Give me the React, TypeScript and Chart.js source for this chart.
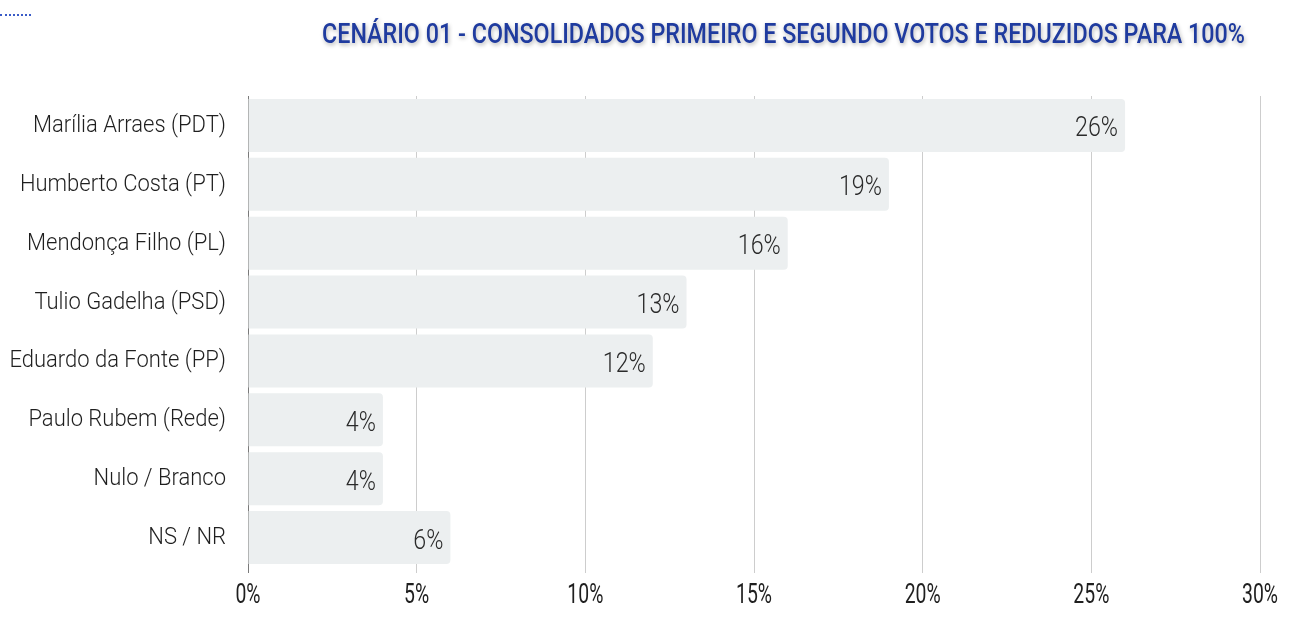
import React, { useEffect, useRef } from 'react';
import { Chart, registerables } from 'chart.js';

Chart.register(...registerables);

const TITLE = 'CENÁRIO 01 - CONSOLIDADOS PRIMEIRO E SEGUNDO VOTOS E REDUZIDOS PARA 100%';
const categories = [
  'Marília Arraes (PDT)',
  'Humberto Costa (PT)',
  'Mendonça Filho (PL)',
  'Tulio Gadelha (PSD)',
  'Eduardo da Fonte (PP)',
  'Paulo Rubem (Rede)',
  'Nulo / Branco',
  'NS / NR',
];
const values = [26, 19, 16, 13, 12, 4, 4, 6];
const xTickValues = [0, 5, 10, 15, 20, 25, 30];
const xMin = 0;
const xMax = 30;
const xStep = 5;

const FONT = 'Roboto, "DejaVu Sans", sans-serif';

function drawScaled(
  ctx: CanvasRenderingContext2D,
  text: string,
  x: number,
  y: number,
  k: number,
  align: 'left' | 'right' | 'center'
) {
  const w = ctx.measureText(text).width * k;
  let left = x;
  if (align === 'right') left = x - w;
  else if (align === 'center') left = x - w / 2;
  ctx.save();
  ctx.translate(left, y);
  ctx.scale(k, 1);
  ctx.textAlign = 'left';
  ctx.fillText(text, 0, 0);
  ctx.restore();
}

export default function App() {
  const ref = useRef<HTMLCanvasElement>(null);
  useEffect(() => {
    if (!ref.current) return;

    const textPlugin = {
      id: 'customText',
      afterDraw(chart: any) {
        const ctx: CanvasRenderingContext2D = chart.ctx;
        // Title
        ctx.save();
        ctx.font = `500 28px ${FONT}`;
        const tw = ctx.measureText(TITLE).width;
        ctx.shadowColor = 'rgba(0,0,0,0.3)';
        ctx.shadowBlur = 4;
        ctx.shadowOffsetX = 1;
        ctx.shadowOffsetY = 2;
        ctx.fillStyle = '#1f3b9f';
        ctx.textBaseline = 'alphabetic';
        drawScaled(ctx, TITLE, 314, 35, 923 / tw, 'left');
        ctx.restore();

        // Y labels
        const yScale = chart.scales.y;
        ctx.save();
        ctx.font = `300 24px ${FONT}`;
        ctx.fillStyle = '#1f1f1f';
        ctx.textBaseline = 'alphabetic';
        let total = 0;
        categories.forEach((c) => (total += ctx.measureText(c).width));
        const ky = 1414 / total;
        categories.forEach((c, i) => {
          const y = yScale.getPixelForValue(i);
          drawScaled(ctx, c, chart.chartArea.left - 22, y + 6.5, ky, 'right');
        });
        ctx.restore();

        // X labels
        const xScale = chart.scales.x;
        ctx.save();
        ctx.font = `400 28px ${FONT}`;
        ctx.fillStyle = '#1f1f1f';
        ctx.textBaseline = 'alphabetic';
        const kx = 36 / ctx.measureText('10%').width;
        xTickValues.forEach((v) => {
          const x = xScale.getPixelForValue(v);
          drawScaled(ctx, v + '%', x, chart.chartArea.bottom + 35.5, kx, 'center');
        });
        ctx.restore();
      },
      afterDatasetsDraw(chart: any) {
        const ctx: CanvasRenderingContext2D = chart.ctx;
        const meta = chart.getDatasetMeta(0);
        ctx.save();
        ctx.font = `300 28px ${FONT}`;
        ctx.fillStyle = '#2a2a2a';
        ctx.textBaseline = 'alphabetic';
        const kd = 43 / ctx.measureText('26%').width;
        meta.data.forEach((bar: any, i: number) => {
          drawScaled(ctx, values[i] + '%', bar.x - 7, bar.y + 11, kd, 'right');
        });
        ctx.restore();
      },
    };

    const chart = new Chart(ref.current, {
      type: 'bar',
      data: {
        labels: categories,
        datasets: [
          {
            data: values,
            backgroundColor: '#ECEFF0',
            borderRadius: 4,
            barPercentage: 0.9,
            categoryPercentage: 1.0,
          },
        ],
      },
      options: {
        indexAxis: 'y',
        animation: false,
        responsive: true,
        maintainAspectRatio: false,
        layout: { padding: { top: 88, right: 38, left: 0, bottom: 0 } },
        plugins: {
          legend: { display: false },
          title: { display: false },
          tooltip: { enabled: false },
        },
        scales: {
          x: {
            min: xMin,
            max: xMax,
            ticks: {
              stepSize: xStep,
              display: false,
            },
            grid: {
              color: (c: any) => (c.tick && c.tick.value === 0 ? '#7a7a7a' : '#cdcdcd'),
              tickLength: 6,
              lineWidth: 1,
            },
            border: { display: false },
            afterFit: (s: any) => {
              s.height = 50;
            },
          },
          y: {
            ticks: { display: false },
            grid: { display: false },
            border: { display: false },
            afterFit: (s: any) => {
              s.width = 240;
            },
          },
        },
      },
      plugins: [textPlugin],
    });
    return () => chart.destroy();
  }, []);

  return (
    <div style={{ position: 'relative', width: '100%', height: 609 }}>
      <div
        style={{
          position: 'fixed',
          left: 0,
          top: 14,
          width: 31,
          borderTop: '2px dotted #3a5bc7',
        }}
      />
      <canvas ref={ref} />
    </div>
  );
}
